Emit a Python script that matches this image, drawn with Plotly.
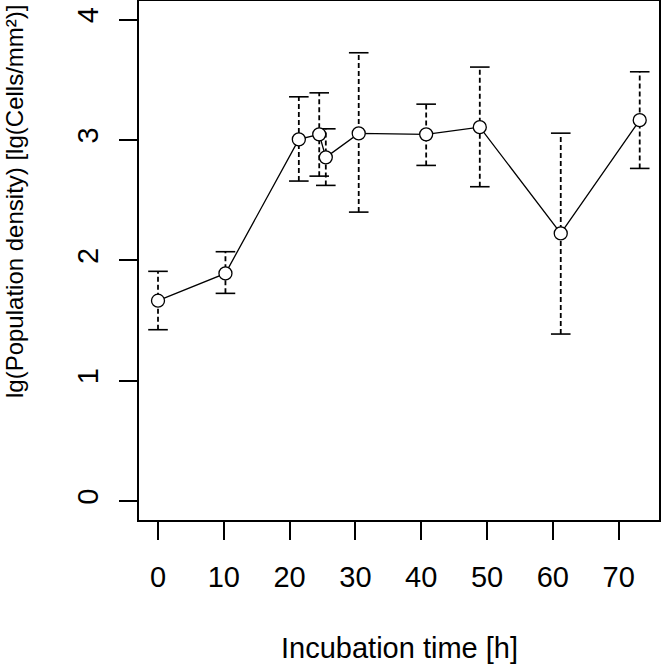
import plotly.graph_objects as go

time_h = [0, 10.25, 21.4, 24.5, 25.5, 30.5, 40.75, 48.9, 61.2, 73.2]
density = [1.664, 1.891, 3.004, 3.046, 2.855, 3.054, 3.046, 3.106, 2.223, 3.164]
upper = [1.908, 2.071, 3.358, 3.391, 3.092, 3.724, 3.297, 3.605, 3.056, 3.566]
lower = [1.423, 1.725, 2.658, 2.699, 2.622, 2.400, 2.788, 2.611, 1.387, 2.763]
x_ticks = [0, 10, 20, 30, 40, 50, 60, 70]
y_ticks = [0, 1, 2, 3, 4]

FONT = "Liberation Sans, Arial, sans-serif"

# dashed whiskers
wx, wy = [], []
for t, lo, hi in zip(time_h, lower, upper):
    wx += [t, t, None]
    wy += [lo, hi, None]

fig = go.Figure()
fig.add_trace(go.Scatter(x=wx, y=wy, mode="lines",
                         line=dict(color="black", width=1.8, dash="5px,3px"),
                         hoverinfo="skip", showlegend=False))
fig.add_trace(go.Scatter(x=time_h + time_h, y=lower + upper, mode="markers",
                         marker=dict(symbol="line-ew", size=14,
                                     line=dict(color="black", width=1.6)),
                         hoverinfo="skip", showlegend=False))
fig.add_trace(go.Scatter(x=time_h, y=density, mode="lines+markers",
                         line=dict(color="black", width=1.3),
                         marker=dict(symbol="circle", size=13, color="white",
                                     line=dict(color="black", width=1.3)),
                         showlegend=False))

axis_common = dict(showline=True, linecolor="black", linewidth=1.5, mirror=True,
                   ticks="outside", ticklen=18, tickwidth=1.5, tickcolor="black",
                   showgrid=False, zeroline=False, automargin=False,
                   tickfont=dict(family=FONT, size=29, color="black"))

fig.update_xaxes(range=[-2.887, 76.13], tickvals=x_ticks, ticklabelstandoff=12,
                 ticktext=[str(v) for v in x_ticks], **axis_common)
fig.update_yaxes(range=[-0.158, 4.154], tickvals=y_ticks, ticklabelstandoff=10,
                 ticktext=[str(v) for v in y_ticks], tickangle=-90, **axis_common)

fig.add_annotation(text="Incubation time [h]", xref="paper", yref="paper",
                   x=0.5, y=-0.2466, xanchor="center", yanchor="middle",
                   showarrow=False, font=dict(family=FONT, size=29, color="black"))
fig.add_annotation(text="lg(Population density) [lg(Cells/mm²)]", xref="paper", yref="paper",
                   x=-0.2404, y=0.6146, xanchor="center", yanchor="middle", textangle=-90,
                   showarrow=False, font=dict(family=FONT, size=24, color="black"))

fig.update_layout(width=661, height=666, margin=dict(l=139, r=2, t=1, b=146),
                  plot_bgcolor="white", paper_bgcolor="white")

fig.write_html("out.html", config={"displayModeBar": False},
               post_script="document.body.style.margin='0';document.body.style.overflow='hidden';")
